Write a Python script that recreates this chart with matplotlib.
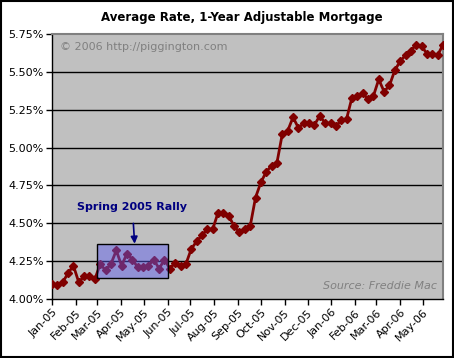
import numpy as np
import pandas as pd
import matplotlib
matplotlib.use("Agg")
import matplotlib.pyplot as plt
import matplotlib.dates as mdates
from matplotlib.patches import Rectangle

# weekly Freddie Mac survey, 1-year ARM (%)
start_week = "2005-01-06"
rates = [4.10, 4.09, 4.11, 4.17, 4.22, 4.11, 4.15, 4.15, 4.13, 4.23,
         4.19, 4.23, 4.32, 4.22, 4.30, 4.26, 4.21, 4.21, 4.22, 4.26,
         4.20, 4.26, 4.20, 4.24, 4.22, 4.23, 4.33, 4.38, 4.42, 4.46,
         4.46, 4.57, 4.57, 4.55, 4.48, 4.44, 4.46, 4.48, 4.67, 4.77,
         4.84, 4.88, 4.90, 5.09, 5.11, 5.20, 5.13, 5.16, 5.16, 5.15,
         5.21, 5.16, 5.16, 5.14, 5.18, 5.19, 5.33, 5.34, 5.36, 5.32,
         5.34, 5.45, 5.37, 5.41, 5.51, 5.57, 5.61, 5.64, 5.68, 5.67,
         5.62, 5.62, 5.61, 5.68]
# Excel date axis: one tick a month, on the 6th (axis starts at first week)
month_ticks = pd.date_range("2005-01-01", "2006-05-01", freq="MS") + pd.Timedelta(days=5)
y_ticks = [4.00, 4.25, 4.50, 4.75, 5.00, 5.25, 5.50, 5.75]

rally_start, rally_end = "2005-03-06", "2005-06-06"
rally_low, rally_high = 4.14, 4.36

dates = pd.date_range(start_week, periods=len(rates), freq="7D")

fig = plt.figure(figsize=(4.54, 3.58), dpi=100)
ax = fig.add_axes([0.1145, 0.165, 0.8613, 0.740])
ax.set_facecolor("#c0c0c0")

ax.plot(dates, rates, color="#800000", lw=2, marker="D", ms=4.5, zorder=3)

for y in y_ticks[1:-1]:
    ax.axhline(y, color="black", lw=1, zorder=1)

x0 = mdates.date2num(pd.Timestamp(rally_start))
x1 = mdates.date2num(pd.Timestamp(rally_end))
ax.add_patch(Rectangle((x0, rally_low), x1 - x0, rally_high - rally_low,
                       facecolor=(0.35, 0.35, 0.95, 0.45), edgecolor="black",
                       lw=1, zorder=4))

ax.annotate("Spring 2005 Rally", xy=((x0 + x1) / 2 + 3, rally_high + 0.005),
            xytext=((x0 + x1) / 2, 4.605), ha="center", va="center",
            fontsize=8, fontweight="bold", color="#000080",
            arrowprops=dict(arrowstyle="-|>", color="#000080", lw=1.2,
                            mutation_scale=10, shrinkA=6, shrinkB=0))

ax.set_xlim(dates[0], dates[-1])
ax.set_ylim(4.0, 5.75)
ax.set_yticks(y_ticks)
ax.set_yticklabels(["%.2f%%" % v for v in y_ticks], fontsize=8)
ax.set_xticks(month_ticks)
ax.set_xticklabels([d.strftime("%b-%y") for d in month_ticks], fontsize=8,
                   rotation=45, ha="right", rotation_mode="anchor")
ax.tick_params(direction="out", length=4, width=1, colors="black", pad=2)

for side in ["top", "right"]:
    ax.spines[side].set_color("#808080")
    ax.spines[side].set_linewidth(1.5)
for side in ["left", "bottom"]:
    ax.spines[side].set_color("black")
    ax.spines[side].set_linewidth(1)

ax.text(0.02, 0.97, "\u00a9 2006 http://piggington.com", transform=ax.transAxes,
        fontsize=8, color="#808080", ha="left", va="top")
ax.text(0.985, 0.03, "Source: Freddie Mac", transform=ax.transAxes,
        fontsize=8, color="#808080", style="italic", ha="right", va="bottom")

fig.text(0.533, 0.952, "Average Rate, 1-Year Adjustable Mortgage",
         fontsize=8.5, fontweight="bold", ha="center", va="center")

fig.patches.append(Rectangle((0.002, 0.003), 0.995, 0.994, transform=fig.transFigure,
                             fill=False, edgecolor="black", lw=1.5))

fig.savefig("out.png", dpi=100)
